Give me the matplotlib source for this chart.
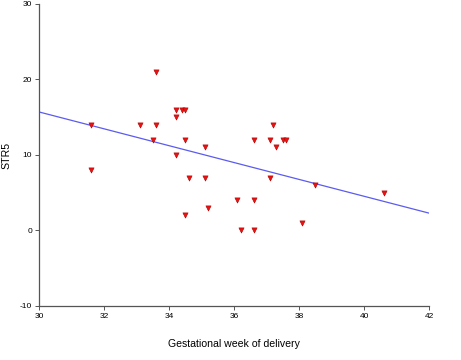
import numpy as np
import matplotlib
matplotlib.use("Agg")
import matplotlib.pyplot as plt

# gestational week vs STR5
weeks = [31.6, 31.6, 33.1, 33.5, 33.6, 33.6, 34.2, 34.2, 34.2, 34.4, 34.5,
         34.5, 34.6, 34.5, 35.1, 35.1, 35.2, 36.1, 36.2, 36.6, 36.6, 36.6,
         37.1, 37.1, 37.2, 37.3, 37.5, 37.6, 38.1, 38.5, 40.6]
str5 = [14, 8, 14, 12, 21, 14, 16, 15, 10, 16, 16,
        12, 7, 2, 11, 7, 3, 4, 0, 12, 4, 0,
        12, 7, 14, 11, 12, 12, 1, 6, 5]

# fitted line end points
fit_x = [30, 42]
fit_y = [15.7, 2.3]

xticks = [30, 32, 34, 36, 38, 40, 42]
yticks = [-10, 0, 10, 20, 30]

plt.rcParams['font.family'] = ['Liberation Sans', 'DejaVu Sans']
plt.rcParams['axes.unicode_minus'] = False

fig = plt.figure(figsize=(4.61, 3.6), dpi=100)
ax = fig.add_axes([0.0846, 0.15, 0.846, 0.839])

ax.plot(fit_x, fit_y, color='#5b5bf0', lw=0.9, zorder=2)
ax.scatter(weeks, str5, marker='v', s=14, color='#ee1111',
           edgecolors='#aa0000', linewidths=0.4, zorder=3)

ax.set_xlim(30, 42)
ax.set_ylim(-10, 30)
ax.set_xticks(xticks)
ax.set_yticks(yticks)
ax.spines['top'].set_visible(False)
ax.spines['right'].set_visible(False)
for s in ['left', 'bottom']:
    ax.spines[s].set_color('#555555')
    ax.spines[s].set_linewidth(0.9)
ax.tick_params(labelsize=6, length=3, width=0.7, color='#555555', pad=2)

ax.set_xlabel("Gestational week of delivery", fontsize=7.6, labelpad=14)
ax.set_ylabel("STR5", fontsize=7.6)
ax.yaxis.set_label_coords(-0.07, 0.5)

fig.savefig("out.png", dpi=100)
